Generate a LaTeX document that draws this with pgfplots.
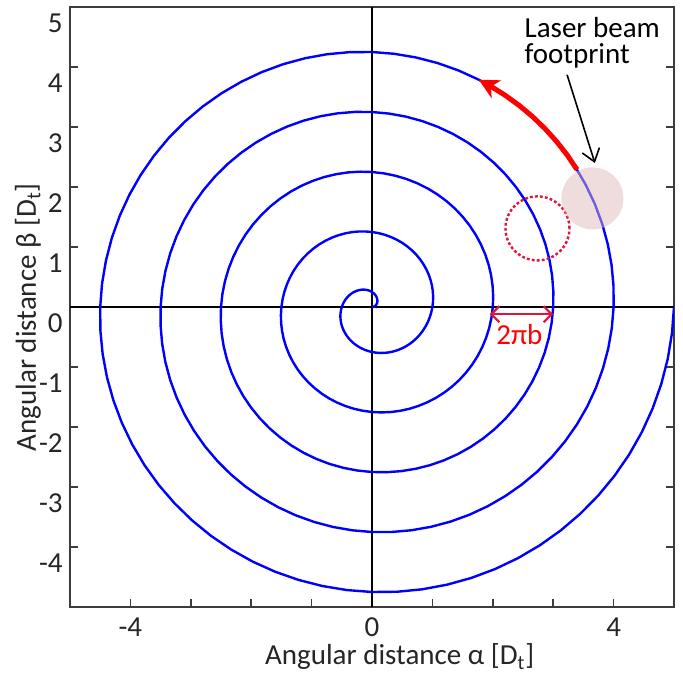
\documentclass[border=0pt]{standalone}
\usepackage{pgfplots}
\pgfplotsset{compat=1.18}
\usepackage{fontspec}
\setmainfont{Carlito}
\usetikzlibrary{arrows.meta}
\definecolor{spiralblue}{RGB}{0,0,255}
\definecolor{crim}{RGB}{225,20,60}
\definecolor{footfill}{RGB}{223,187,187}
\definecolor{framegray}{RGB}{60,60,60}
\begin{document}
\fontsize{14.5}{16}\selectfont
\begin{tikzpicture}
\begin{axis}[
  name=ax,
  scale only axis,
  width=302pt, height=300pt,
  xmin=-5, xmax=5, ymin=-5, ymax=5,
  axis line style={framegray, line width=0.9pt},
  tick style={framegray, line width=0.8pt},
  major tick length=4pt,
  tick align=inside,
  xtick pos=bottom,
  ytick pos=both,
  xtick={-4,-3,-2,-1,0,1,2,3,4},
  xticklabels={-4,,,,0,,,,4},
  ytick={-4,-3,-2,-1,0,1,2,3,4,5},
  yticklabels={-4,-3,-2,-1,0,1,2,3,4,5},
  xticklabel style={inner sep=0pt, anchor=north, yshift=-5pt, text=black!85},
  yticklabel style={inner sep=0pt, anchor=east, yshift=-8pt, xshift=-3.5pt, text=black!85},
  xlabel={Angular distance α [D\textsubscript{t}]},
  ylabel={Angular distance β [D\textsubscript{t}]},
  xlabel style={at={(axis description cs:0.546,-0.083)}, anchor=center, inner sep=0pt, text=black!85},
  ylabel style={at={(axis description cs:-0.0695,0.483)}, anchor=center, inner sep=0pt, rotate=0, text=black!85},
  clip=true,
]
% cross lines
\addplot[black, line width=1pt] coordinates {(-5,0) (5,0)};
\addplot[black, line width=1pt] coordinates {(0,-5) (0,5)};
% spiral: (angle in degrees, radius), radius grows by 1 per turn
\addplot[spiralblue, line width=1.2pt, data cs=polar] coordinates {
(0,0) (5,0.0139) (10,0.0278) (15,0.0417) (20,0.0556) (25,0.0694) (30,0.0833) (35,0.0972)
(40,0.1111) (45,0.1250) (50,0.1389) (55,0.1528) (60,0.1667) (65,0.1806) (70,0.1944) (75,0.2083)
(80,0.2222) (85,0.2361) (90,0.2500) (95,0.2639) (100,0.2778) (105,0.2917) (110,0.3056) (115,0.3194)
(120,0.3333) (125,0.3472) (130,0.3611) (135,0.3750) (140,0.3889) (145,0.4028) (150,0.4167) (155,0.4306)
(160,0.4444) (165,0.4583) (170,0.4722) (175,0.4861) (180,0.5000) (185,0.5139) (190,0.5278) (195,0.5417)
(200,0.5556) (205,0.5694) (210,0.5833) (215,0.5972) (220,0.6111) (225,0.6250) (230,0.6389) (235,0.6528)
(240,0.6667) (245,0.6806) (250,0.6944) (255,0.7083) (260,0.7222) (265,0.7361) (270,0.7500) (275,0.7639)
(280,0.7778) (285,0.7917) (290,0.8056) (295,0.8194) (300,0.8333) (305,0.8472) (310,0.8611) (315,0.8750)
(320,0.8889) (325,0.9028) (330,0.9167) (335,0.9306) (340,0.9444) (345,0.9583) (350,0.9722) (355,0.9861)
(360,1) (365,1.0139) (370,1.0278) (375,1.0417) (380,1.0556) (385,1.0694) (390,1.0833) (395,1.0972)
(400,1.1111) (405,1.1250) (410,1.1389) (415,1.1528) (420,1.1667) (425,1.1806) (430,1.1944) (435,1.2083)
(440,1.2222) (445,1.2361) (450,1.2500) (455,1.2639) (460,1.2778) (465,1.2917) (470,1.3056) (475,1.3194)
(480,1.3333) (485,1.3472) (490,1.3611) (495,1.3750) (500,1.3889) (505,1.4028) (510,1.4167) (515,1.4306)
(520,1.4444) (525,1.4583) (530,1.4722) (535,1.4861) (540,1.5000) (545,1.5139) (550,1.5278) (555,1.5417)
(560,1.5556) (565,1.5694) (570,1.5833) (575,1.5972) (580,1.6111) (585,1.6250) (590,1.6389) (595,1.6528)
(600,1.6667) (605,1.6806) (610,1.6944) (615,1.7083) (620,1.7222) (625,1.7361) (630,1.7500) (635,1.7639)
(640,1.7778) (645,1.7917) (650,1.8056) (655,1.8194) (660,1.8333) (665,1.8472) (670,1.8611) (675,1.8750)
(680,1.8889) (685,1.9028) (690,1.9167) (695,1.9306) (700,1.9444) (705,1.9583) (710,1.9722) (715,1.9861)
(720,2) (725,2.0139) (730,2.0278) (735,2.0417) (740,2.0556) (745,2.0694) (750,2.0833) (755,2.0972)
(760,2.1111) (765,2.1250) (770,2.1389) (775,2.1528) (780,2.1667) (785,2.1806) (790,2.1944) (795,2.2083)
(800,2.2222) (805,2.2361) (810,2.2500) (815,2.2639) (820,2.2778) (825,2.2917) (830,2.3056) (835,2.3194)
(840,2.3333) (845,2.3472) (850,2.3611) (855,2.3750) (860,2.3889) (865,2.4028) (870,2.4167) (875,2.4306)
(880,2.4444) (885,2.4583) (890,2.4722) (895,2.4861) (900,2.5000) (905,2.5139) (910,2.5278) (915,2.5417)
(920,2.5556) (925,2.5694) (930,2.5833) (935,2.5972) (940,2.6111) (945,2.6250) (950,2.6389) (955,2.6528)
(960,2.6667) (965,2.6806) (970,2.6944) (975,2.7083) (980,2.7222) (985,2.7361) (990,2.7500) (995,2.7639)
(1000,2.7778) (1005,2.7917) (1010,2.8056) (1015,2.8194) (1020,2.8333) (1025,2.8472) (1030,2.8611) (1035,2.8750)
(1040,2.8889) (1045,2.9028) (1050,2.9167) (1055,2.9306) (1060,2.9444) (1065,2.9583) (1070,2.9722) (1075,2.9861)
(1080,3) (1085,3.0139) (1090,3.0278) (1095,3.0417) (1100,3.0556) (1105,3.0694) (1110,3.0833) (1115,3.0972)
(1120,3.1111) (1125,3.1250) (1130,3.1389) (1135,3.1528) (1140,3.1667) (1145,3.1806) (1150,3.1944) (1155,3.2083)
(1160,3.2222) (1165,3.2361) (1170,3.2500) (1175,3.2639) (1180,3.2778) (1185,3.2917) (1190,3.3056) (1195,3.3194)
(1200,3.3333) (1205,3.3472) (1210,3.3611) (1215,3.3750) (1220,3.3889) (1225,3.4028) (1230,3.4167) (1235,3.4306)
(1240,3.4444) (1245,3.4583) (1250,3.4722) (1255,3.4861) (1260,3.5000) (1265,3.5139) (1270,3.5278) (1275,3.5417)
(1280,3.5556) (1285,3.5694) (1290,3.5833) (1295,3.5972) (1300,3.6111) (1305,3.6250) (1310,3.6389) (1315,3.6528)
(1320,3.6667) (1325,3.6806) (1330,3.6944) (1335,3.7083) (1340,3.7222) (1345,3.7361) (1350,3.7500) (1355,3.7639)
(1360,3.7778) (1365,3.7917) (1370,3.8056) (1375,3.8194) (1380,3.8333) (1385,3.8472) (1390,3.8611) (1395,3.8750)
(1400,3.8889) (1405,3.9028) (1410,3.9167) (1415,3.9306) (1420,3.9444) (1425,3.9583) (1430,3.9722) (1435,3.9861)
(1440,4) (1445,4.0139) (1450,4.0278) (1455,4.0417) (1460,4.0556) (1465,4.0694) (1470,4.0833) (1475,4.0972)
(1480,4.1111) (1485,4.1250) (1490,4.1389) (1495,4.1528) (1500,4.1667) (1505,4.1806) (1510,4.1944) (1515,4.2083)
(1520,4.2222) (1525,4.2361) (1530,4.2500) (1535,4.2639) (1540,4.2778) (1545,4.2917) (1550,4.3056) (1555,4.3194)
(1560,4.3333) (1565,4.3472) (1570,4.3611) (1575,4.3750) (1580,4.3889) (1585,4.4028) (1590,4.4167) (1595,4.4306)
(1600,4.4444) (1605,4.4583) (1610,4.4722) (1615,4.4861) (1620,4.5000) (1625,4.5139) (1630,4.5278) (1635,4.5417)
(1640,4.5556) (1645,4.5694) (1650,4.5833) (1655,4.5972) (1660,4.6111) (1665,4.6250) (1670,4.6389) (1675,4.6528)
(1680,4.6667) (1685,4.6806) (1690,4.6944) (1695,4.7083) (1700,4.7222) (1705,4.7361) (1710,4.7500) (1715,4.7639)
(1720,4.7778) (1725,4.7917) (1730,4.8056) (1735,4.8194) (1740,4.8333) (1745,4.8472) (1750,4.8611) (1755,4.8750)
(1760,4.8889) (1765,4.9028) (1770,4.9167) (1775,4.9306) (1780,4.9444) (1785,4.9583) (1790,4.9722) (1795,4.9861)
(1800,5)
};
% dotted circle (shifted footprint)
\addplot[only marks, mark=o, mark size=16pt,
  mark options={draw=crim, line width=1.2pt, dash pattern=on 1.4pt off 1.1pt}]
  coordinates {(2.74,1.31)};
% laser beam footprint
\addplot[only marks, mark=*, mark size=15.5pt, color=footfill,
  mark options={color=footfill, fill=footfill, line width=0pt, draw opacity=0, fill opacity=0.5}]
  coordinates {(3.65,1.81)};
% red thick arrow along the spiral
\addplot[red, line width=2.5pt, data cs=polar,
  -{Stealth[length=10pt, width=10pt, inset=3pt]}]
  coordinates {(34,4.0944) (38,4.1056) (42,4.1167) (46,4.1278) (50,4.1389) (54,4.1500) (58,4.1611) (62,4.1722) (65,4.1806)};
% 2 pi b arrow
\addplot[crim, line width=1.1pt,
  {Straight Barb[length=4pt, width=8pt]}-{Straight Barb[length=4pt, width=8pt]}]
  coordinates {(1.95,-0.12) (3.0,-0.12)};
\node[text=red] at (axis cs:2.44,-0.46) {2πb};
% annotation arrow
\addplot[black, line width=0.8pt, -{Straight Barb[length=6pt, width=9pt]}]
  coordinates {(3.23,3.87) (3.69,2.40)};
\node[anchor=base west, inner sep=0pt, text=black] at (axis cs:2.52,4.50)
  {\renewcommand\arraystretch{0.72}\begin{tabular}[t]{@{}l@{}}Laser beam\\footprint\end{tabular}};
\end{axis}
\pgfresetboundingbox
\path ([xshift=-35pt, yshift=-33pt]ax.south west) rectangle ([xshift=4.5pt, yshift=3.5pt]ax.north east);
\end{tikzpicture}
\end{document}
